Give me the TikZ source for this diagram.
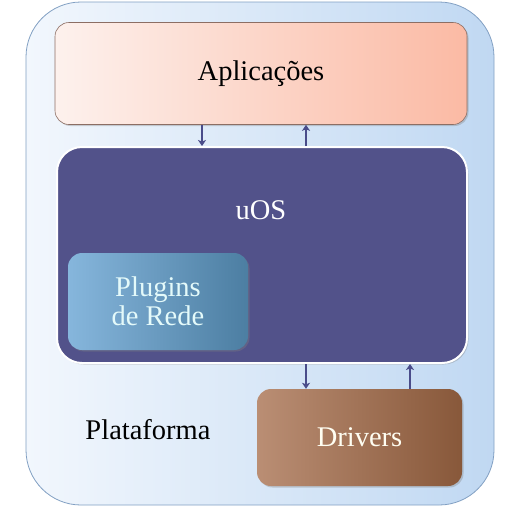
\documentclass[tikz,border=0pt]{standalone}
\usepackage{fontspec}
\setmainfont{Liberation Serif}
\usetikzlibrary{shadows,arrows.meta}
\definecolor{uosfill}{RGB}{82,82,138}
\definecolor{arrcol}{RGB}{74,76,138}
\definecolor{outerline}{RGB}{130,160,195}
\definecolor{outerA}{RGB}{242,247,253}
\definecolor{outerB}{RGB}{192,216,242}
\definecolor{appA}{RGB}{253,241,237}
\definecolor{appB}{RGB}{251,186,164}
\definecolor{appline}{RGB}{140,110,100}
\definecolor{plugA}{RGB}{134,182,220}
\definecolor{plugB}{RGB}{76,126,162}
\definecolor{plugtext}{RGB}{228,250,250}
\definecolor{drvA}{RGB}{186,142,116}
\definecolor{drvB}{RGB}{136,88,58}
\tikzset{
  box/.style={rounded corners=14pt, inner sep=0pt, align=center,
    font=\fontsize{28.5}{31}\selectfont},
  arr/.style={draw=arrcol, line width=2pt, -{Stealth[length=6pt,width=8pt,inset=1.5pt]}},
  shad/.style={drop shadow={shadow xshift=1.5pt, shadow yshift=-1.5pt, opacity=0.35}},
}
\begin{document}
\begin{tikzpicture}[x=1pt,y=-1pt]
\useasboundingbox (0,0) rectangle (521,512);
\fill[white] (0,0) rectangle (521,512);
% outer platform
\node[box, rounded corners=55pt, draw=outerline, line width=0.8pt,
  shading=axis, shading angle=60, left color=outerA, right color=outerB,
  minimum width=468pt, minimum height=503pt] (plat) at (260,253.5) {};
% Aplicacoes
\node[box, shad, draw=appline, line width=0.6pt, left color=appA, right color=appB,
  minimum width=412pt, minimum height=102pt] (app) at (261,73.5) {Aplicações};
% uOS
\node[box, shad, rounded corners=25pt, draw=white, line width=2pt, fill=uosfill,
  minimum width=410pt, minimum height=216pt] (uos) at (262,255) {};
\node[font=\fontsize{28.5}{31}\selectfont, text=white] (uoslbl) at (261,210) {uOS};
% Plugins
\node[box, shad, shading=axis, shading angle=60, left color=plugA, right color=plugB,
  text=plugtext, minimum width=180pt, minimum height=97pt] (plug) at (158,301.5)
  {Plugins\\[-2pt]de Rede};
% Drivers
\node[box, shad, left color=drvA, right color=drvB, text=white!95!yellow,
  minimum width=205pt, minimum height=97pt] (drv) at (359.5,437.5) {Drivers};
% Plataforma label
\node[font=\fontsize{28.5}{31}\selectfont, text=black] (platlbl) at (148,430) {Plataforma};
% arrows
\coordinate (xa) at (202,0);
\coordinate (xb) at (306,0);
\coordinate (xc) at (410,0);
\draw[arr] (app.south -| xa) -- (uos.north -| xa);
\draw[arr] (uos.north -| xb) -- (app.south -| xb);
\draw[arr] (uos.south -| xb) -- (drv.north -| xb);
\draw[arr] (drv.north -| xc) -- (uos.south -| xc);
\end{tikzpicture}
\end{document}
